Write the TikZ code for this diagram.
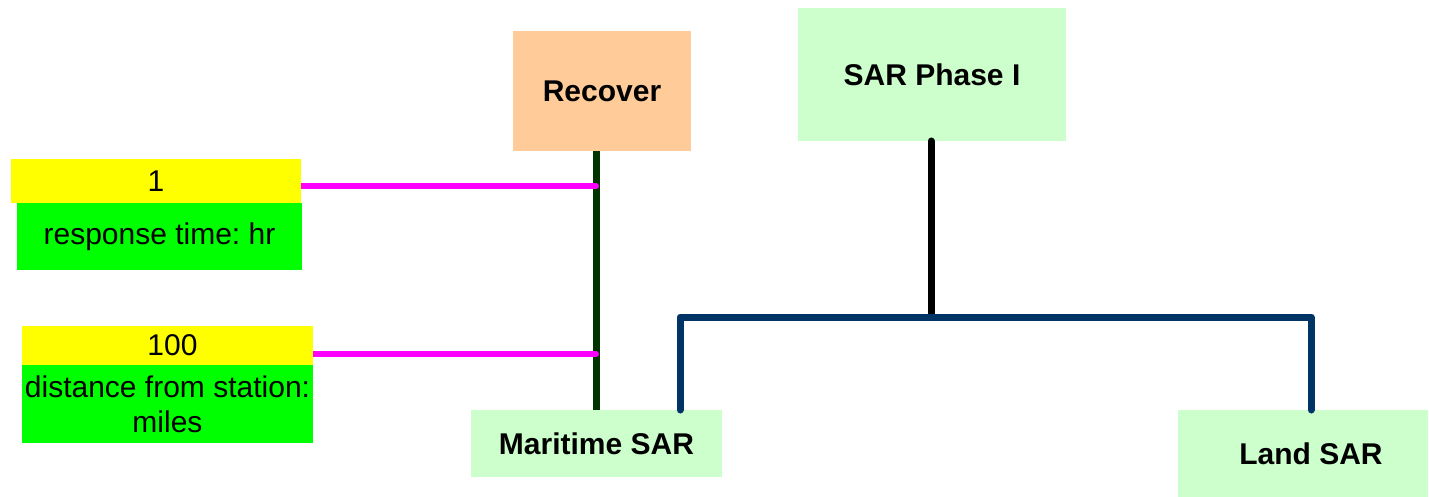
\documentclass[tikz,border=0pt]{standalone}
\usepackage{fontspec}
\setmainfont{Liberation Sans}
\usetikzlibrary{calc}
\frenchspacing
\definecolor{peach}{HTML}{FFCC99}
\definecolor{paleg}{HTML}{CCFFCC}
\definecolor{yel}{HTML}{FFFF00}
\definecolor{grn}{HTML}{00FF00}
\definecolor{mag}{HTML}{FF00FF}
\definecolor{dkgreen}{HTML}{003300}
\definecolor{navy}{HTML}{003366}
\pgfdeclarelayer{bg}
\pgfsetlayers{bg,main}
\begin{document}
\begin{tikzpicture}[x=1pt,y=-1pt,
  box/.style={anchor=north west, inner sep=0pt, outer sep=0pt, align=center,
    font=\fontsize{30}{35}\selectfont\frenchspacing},
  title/.style={box, font=\fontsize{30}{35}\selectfont\bfseries},
  maglink/.style={draw=mag, line width=6pt, line cap=round},
  tree/.style={line width=7pt, line cap=round, line join=round}]
\useasboundingbox (0,0) rectangle (1429,497);
% boxes
\node[title, fill=peach, minimum width=178pt, minimum height=120pt] (rec) at (513,31) {Recover};
\node[title, fill=paleg, minimum width=268pt, minimum height=133pt] (sar) at (798,8) {SAR Phase I};
\node[title, fill=paleg, minimum width=251pt, minimum height=67pt] (mar) at (471,410) {Maritime SAR};
\node[box, fill=paleg, minimum width=250pt, minimum height=87pt] (land) at (1178,410) {};
\node[font=\fontsize{30}{35}\selectfont\bfseries, inner sep=0pt] (landt) at ($(land.center)+(8,0)$) {Land SAR};
\node[box, fill=yel, minimum width=290pt, minimum height=44pt] (y1) at (11,159) {1};
\node[box, fill=grn, minimum width=285pt, minimum height=67pt] (g1) at (17,203) {response time: hr};
\node[box, fill=yel, minimum width=291pt, minimum height=39pt] (y2) at (22,326) {\hspace{10pt}100};
\node[box, fill=grn, minimum width=291pt, minimum height=78pt] (g2) at (22,365) {distance from station:\\miles};
% connectors
\coordinate (j1) at (596,186);
\coordinate (j2) at (596,354);
\coordinate (hb) at (931,317);
\coordinate (ml) at (680,410);
\coordinate (lt) at (1311,410);
\begin{pgfonlayer}{bg}
\draw[draw=dkgreen, line width=7pt] (rec.south -| j1) -- (mar.north -| j1);
\draw[maglink] (y1.east |- j1) -- (j1);
\draw[maglink] (y2.east |- j2) -- (j2);
\end{pgfonlayer}
\draw[tree, draw=black] (sar.south -| hb) -- (hb);
\draw[tree, draw=navy] (ml) -- (ml |- hb) -- (lt |- hb) -- (lt);
\end{tikzpicture}
\end{document}
